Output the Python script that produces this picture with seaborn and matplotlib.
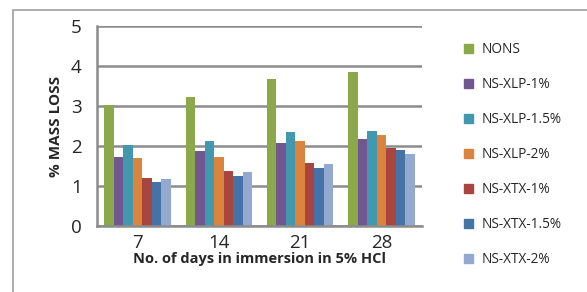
import matplotlib
matplotlib.use("Agg")
import matplotlib.pyplot as plt
import seaborn as sns
import pandas as pd
from matplotlib.patches import Rectangle

days = ["7", "14", "21", "28"]
series = ["NONS", "NS-XLP-1%", "NS-XLP-1.5%", "NS-XLP-2%", "NS-XTX-1%", "NS-XTX-1.5%", "NS-XTX-2%"]
nons = [3.03, 3.22, 3.67, 3.86]
xlp1 = [1.73, 1.87, 2.08, 2.17]
xlp15 = [2.03, 2.12, 2.35, 2.38]
xlp2 = [1.71, 1.73, 2.13, 2.28]
xtx1 = [1.19, 1.37, 1.57, 1.95]
xtx15 = [1.09, 1.26, 1.45, 1.89]
xtx2 = [1.18, 1.35, 1.56, 1.81]
colors = ["#8BA84B", "#71578F", "#4298AF", "#DB843D", "#A9443F", "#4572A7", "#93A9D0"]

vals = [nons, xlp1, xlp15, xlp2, xtx1, xtx15, xtx2]
rows = []
for s, v in zip(series, vals):
    for d, x in zip(days, v):
        rows.append({"day": d, "series": s, "loss": x})
df = pd.DataFrame(rows)

sns.set_style("white")
plt.rcParams["font.family"] = ["Open Sans", "DejaVu Sans"]

fig = plt.figure(figsize=(5.87, 2.92), dpi=100)
ax = fig.add_axes([97/587, 66/292, 325/587, 200/292])

sns.barplot(data=df, x="day", y="loss", hue="series", order=days, hue_order=series,
            palette=colors, width=0.82, ax=ax, saturation=1, edgecolor="none", legend=False)

ax.set_ylim(0, 5)
ax.set_yticks([0, 1, 2, 3, 4, 5])
ax.set_xlim(-0.5, 3.5)
ax.grid(axis="y", color="#8c8c8c", linewidth=1.8)
ax.set_axisbelow(True)
for side in ["top", "right"]:
    ax.spines[side].set_visible(False)
ax.spines["left"].set_color("#8c8c8c")
ax.spines["left"].set_linewidth(1.8)
ax.spines["bottom"].set_color("#8c8c8c")
ax.spines["bottom"].set_linewidth(1.8)
ax.tick_params(axis="y", length=7, width=1.5, color="#8c8c8c", labelsize=13.5, pad=4)
ax.tick_params(axis="x", length=0, labelsize=13.5, pad=6)
ax.set_ylabel("% MASS LOSS", fontsize=11, fontweight="bold", labelpad=6)
ax.set_xlabel("No. of days in immersion in 5% HCl", fontsize=10.5, fontweight="bold", labelpad=0)

handles = [Rectangle((0, 0), 1, 1, color=c) for c in colors]
fig.legend(handles, series, loc="upper left", bbox_to_anchor=(459/587, 1 - 37/292),
           frameon=False, fontsize=9.8, labelspacing=1.47, handlelength=0.65, handleheight=0.65,
           handletextpad=0.6, borderaxespad=0)

fig.patches.append(Rectangle((13/587, -0.1), 2, 1.1 - 10/292, transform=fig.transFigure,
                             fill=False, edgecolor="#a0a0a0", linewidth=1.2))

fig.savefig("out.png", dpi=100)
